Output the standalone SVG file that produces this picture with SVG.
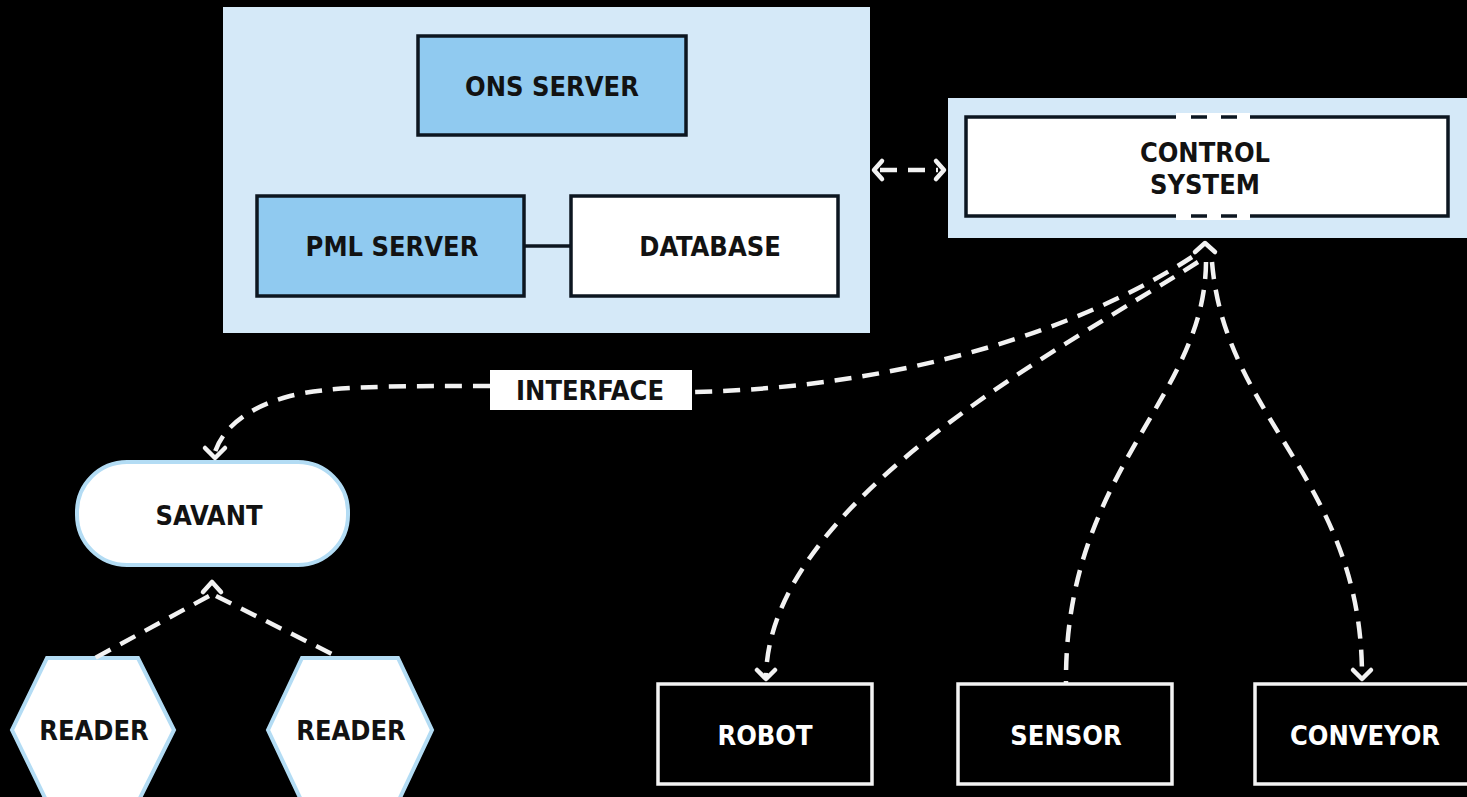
<svg xmlns="http://www.w3.org/2000/svg" width="1467" height="797" viewBox="0 0 1467 797">
  <defs>
    <style>
      .lbl { font-family: "DejaVu Sans Condensed", "DejaVu Sans", sans-serif; font-weight: bold; font-size: 27px; text-anchor: middle; dominant-baseline: central; }
      .dark { fill: #121212; }
      .light { fill: #ffffff; }
      .panel { fill: #d5e9f8; }
      .server { fill: #90caf0; stroke: #0c1620; stroke-width: 3.5; }
      .plain { fill: #ffffff; stroke: #0c1620; stroke-width: 3.5; }
      .device { fill: #000000; stroke: #f4f4f4; stroke-width: 3.5; }
      .soft { fill: #ffffff; stroke: #b3dcf4; stroke-width: 4; }
      .dash { fill: none; stroke: #f2f2f2; stroke-width: 4.5; stroke-dasharray: 17 11; stroke-linecap: butt; }
      .head { fill: none; stroke: #f2f2f2; stroke-width: 4.5; stroke-linecap: round; stroke-linejoin: round; }
    </style>
  </defs>
  <rect width="1467" height="797" fill="#000"/>

  <!-- EPC network panel -->
  <g id="epc-network">
    <rect class="panel" x="223" y="7" width="647" height="326"/>
  </g>
  <g id="ons-server">
    <rect class="server" x="418" y="36" width="268" height="99"/>
    <text class="lbl dark" x="552" y="86">ONS SERVER</text>
  </g>
  <g id="pml-server">
    <rect class="server" x="257" y="196" width="267" height="100"/>
    <text class="lbl dark" x="392" y="246">PML SERVER</text>
  </g>
  <g id="database">
    <rect class="plain" x="571" y="196" width="267" height="100"/>
    <text class="lbl dark" x="710" y="246">DATABASE</text>
  </g>

  <!-- control system -->
  <g id="control-system">
    <rect class="panel" x="948" y="98" width="519" height="140"/>
    <rect class="plain" x="966" y="117" width="482" height="99"/>
    <rect x="1176" y="113" width="74" height="8" fill="#ffffff"/>
    <rect x="1176" y="212" width="74" height="8" fill="#ffffff"/>
    <line x1="1191" y1="117" x2="1207" y2="117" stroke="#0c1620" stroke-width="3.5"/>
    <line x1="1221" y1="117" x2="1237" y2="117" stroke="#0c1620" stroke-width="3.5"/>
    <line x1="1191" y1="216" x2="1207" y2="216" stroke="#0c1620" stroke-width="3.5"/>
    <line x1="1221" y1="216" x2="1237" y2="216" stroke="#0c1620" stroke-width="3.5"/>
    <text class="lbl dark" x="1205" y="152">CONTROL</text>
    <text class="lbl dark" x="1205" y="184">SYSTEM</text>
  </g>

  <!-- middleware and readers -->
  <g id="savant">
    <rect class="soft" x="77" y="462" width="271" height="103" rx="50" ry="50"/>
    <text class="lbl dark" x="209" y="515">SAVANT</text>
  </g>
  <g id="reader-1">
    <polygon class="soft" points="47,658 138,658 174,730 138,802 47,802 12,730"/>
    <text class="lbl dark" x="94" y="730">READER</text>
  </g>
  <g id="reader-2">
    <polygon class="soft" points="302,658 398,658 432,730 398,802 302,802 268,730"/>
    <text class="lbl dark" x="351" y="730">READER</text>
  </g>

  <!-- field devices -->
  <g id="robot">
    <rect class="device" x="658" y="684" width="214" height="100"/>
    <text class="lbl light" x="765" y="735">ROBOT</text>
  </g>
  <g id="sensor">
    <rect class="device" x="958" y="684" width="214" height="100"/>
    <text class="lbl light" x="1066" y="735">SENSOR</text>
  </g>
  <g id="conveyor">
    <rect class="device" x="1255" y="684" width="214" height="100"/>
    <text class="lbl light" x="1365" y="735">CONVEYOR</text>
  </g>

  <!-- connectors -->
  <g id="connectors">
    <line x1="524" y1="246" x2="571" y2="246" stroke="#0c1620" stroke-width="3.5"/>

    <!-- panel <-> control system -->
    <line class="dash" x1="880" y1="170" x2="938" y2="170" stroke-dasharray="12 7"/>
    <polyline class="head" points="882,161 874,170 882,179"/>
    <polyline class="head" points="936,161 944,170 936,179"/>

    <!-- interface link -->
    <path class="dash" d="M1192 257 C1080 330 900 388 692 392"/>
    <path class="dash" d="M490 386 C390 386 330 386 290 396 C245 408 222 430 215 452"/>
    <polyline class="head" points="205,448 215,458 225,448"/>
    <g id="interface-label">
      <rect x="490" y="370" width="202" height="40" fill="#ffffff"/>
      <text class="lbl dark" x="590" y="390">INTERFACE</text>
    </g>

    <!-- control system fan-out -->
    <polyline class="head" points="1195,252 1205,243 1215,252"/>
    <path class="dash" d="M1198 262 C1060 350 770 500 766 676"/>
    <polyline class="head" points="757,670 766,679 775,670"/>
    <path class="dash" d="M1206 262 C1205 400 1064 470 1066 684"/>
    <path class="dash" d="M1212 262 C1225 420 1362 480 1362 676"/>
    <polyline class="head" points="1353,670 1362,679 1371,670"/>

    <!-- readers to savant -->
    <polyline class="head" points="203,592 212,582 221,592"/>
    <path class="dash" d="M209 596 L95 658"/>
    <path class="dash" d="M216 596 L340 658"/>
  </g>
</svg>
